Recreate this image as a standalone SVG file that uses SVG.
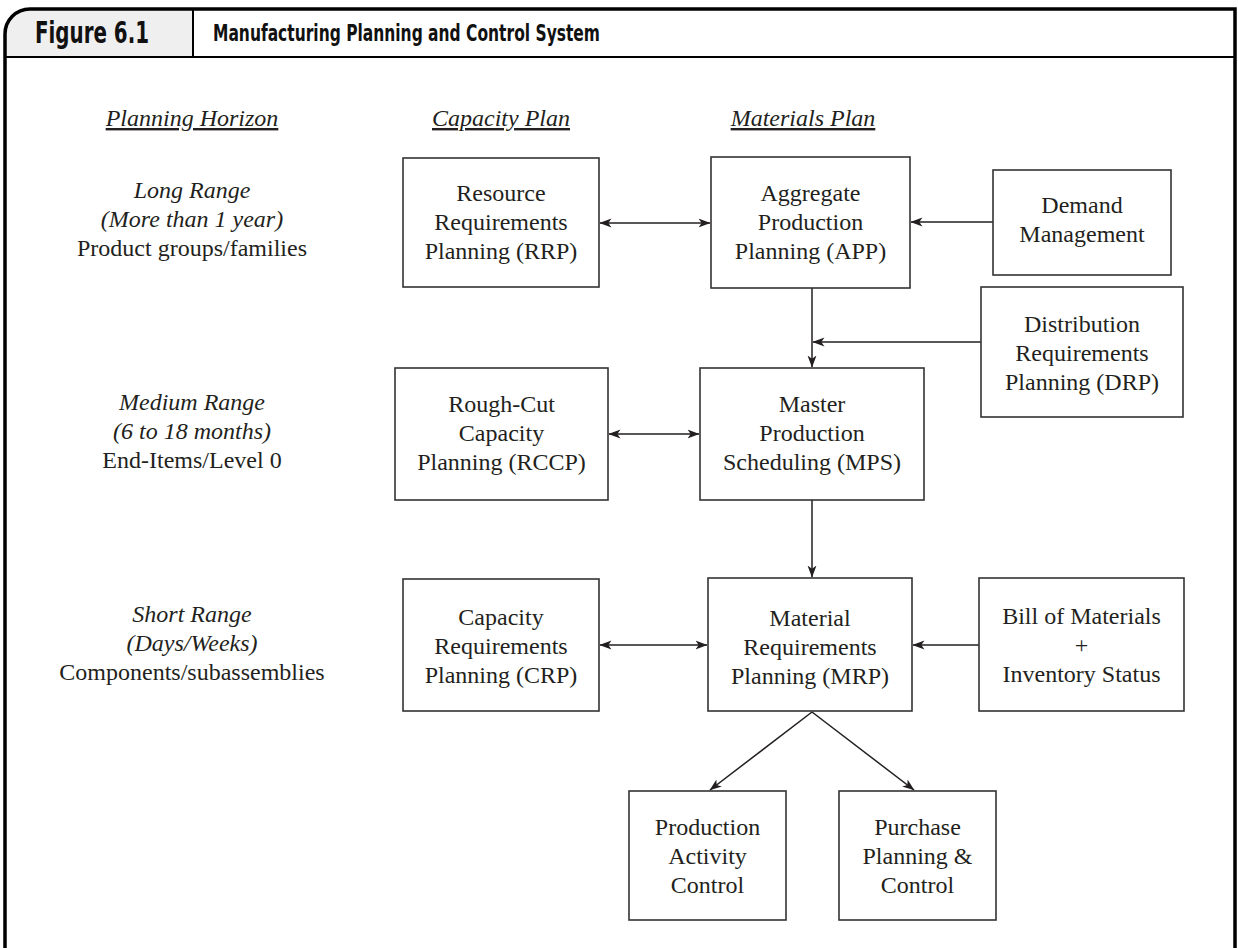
<svg xmlns="http://www.w3.org/2000/svg" width="1238" height="948" viewBox="0 0 1238 948">
<style>
.box{fill:#fff;stroke:#333;stroke-width:1.6}
.t{font-family:"Liberation Serif","Times New Roman",serif;font-size:24px;fill:#231f20;text-anchor:middle}
.i{font-style:italic}
.u{text-decoration:underline}
.c{stroke:#231f20;stroke-width:1.5;fill:none}
.hd{font-family:"Liberation Sans Narrow","DejaVu Sans Condensed","Liberation Sans",sans-serif;font-weight:bold;fill:#111}
</style>
<defs>
<marker id="ah" viewBox="0 0 12 10" refX="11.5" refY="5" markerWidth="12" markerHeight="10" markerUnits="userSpaceOnUse" orient="auto-start-reverse">
<path d="M0,0.5 L12,5 L0,9.5 L3.2,5 Z" fill="#231f20"/>
</marker>
</defs>
<rect x="0" y="0" width="1238" height="948" fill="#fff"/>
<g id="frame">
<path d="M5,57 V34 A25,25 0 0 1 30,9 H193 V57 Z" fill="#efefef"/>
<path d="M5,948 V34 A25,25 0 0 1 30,9 H1235 V948" fill="none" stroke="#000" stroke-width="3.5"/>
<line x1="5" y1="57" x2="1235" y2="57" stroke="#000" stroke-width="2"/>
<line x1="193" y1="9" x2="193" y2="57" stroke="#000" stroke-width="2"/>
<text class="hd" x="35" y="43" font-size="30" textLength="114" lengthAdjust="spacingAndGlyphs">Figure 6.1</text>
<text class="hd" x="213" y="41" font-size="23" textLength="387" lengthAdjust="spacingAndGlyphs">Manufacturing Planning and Control System</text>
</g>
<g id="headings">
<text class="t i u" x="192" y="126">Planning Horizon</text>
<text class="t i u" x="501" y="126">Capacity Plan</text>
<text class="t i u" x="803" y="126">Materials Plan</text>
</g>
<g id="horizon-long">
<text class="t i" x="192" y="198">Long Range</text>
<text class="t i" x="192" y="227">(More than 1 year)</text>
<text class="t" x="192" y="256">Product groups/families</text>
</g>
<g id="horizon-medium">
<text class="t i" x="192" y="410">Medium Range</text>
<text class="t i" x="192" y="439">(6 to 18 months)</text>
<text class="t" x="192" y="468">End-Items/Level 0</text>
</g>
<g id="horizon-short">
<text class="t i" x="192" y="622">Short Range</text>
<text class="t i" x="192" y="651">(Days/Weeks)</text>
<text class="t" x="192" y="680">Components/subassemblies</text>
</g>
<g id="connectors">
<line class="c" x1="600" y1="223" x2="710" y2="223" marker-start="url(#ah)" marker-end="url(#ah)"/>
<line class="c" x1="993" y1="222" x2="911" y2="222" marker-end="url(#ah)"/>
<line class="c" x1="812" y1="288" x2="812" y2="367" marker-end="url(#ah)"/>
<line class="c" x1="981" y1="342" x2="813" y2="342" marker-end="url(#ah)"/>
<line class="c" x1="609" y1="434" x2="699" y2="434" marker-start="url(#ah)" marker-end="url(#ah)"/>
<line class="c" x1="812" y1="500" x2="812" y2="577" marker-end="url(#ah)"/>
<line class="c" x1="600" y1="645" x2="707" y2="645" marker-start="url(#ah)" marker-end="url(#ah)"/>
<line class="c" x1="979" y1="645" x2="913" y2="645" marker-end="url(#ah)"/>
<line class="c" x1="812" y1="712" x2="710" y2="790" marker-end="url(#ah)"/>
<line class="c" x1="812" y1="712" x2="914" y2="790" marker-end="url(#ah)"/>
</g>
<g id="rrp">
<rect class="box" x="403" y="158" width="196" height="129"/>
<text class="t" x="501" y="201">Resource</text>
<text class="t" x="501" y="230">Requirements</text>
<text class="t" x="501" y="259">Planning (RRP)</text>
</g>
<g id="app">
<rect class="box" x="711" y="157" width="199" height="131"/>
<text class="t" x="810.5" y="201">Aggregate</text>
<text class="t" x="810.5" y="230">Production</text>
<text class="t" x="810.5" y="259">Planning (APP)</text>
</g>
<g id="demand">
<rect class="box" x="993" y="170" width="178" height="105"/>
<text class="t" x="1082" y="213">Demand</text>
<text class="t" x="1082" y="242">Management</text>
</g>
<g id="drp">
<rect class="box" x="981" y="287" width="202" height="130"/>
<text class="t" x="1082" y="332">Distribution</text>
<text class="t" x="1082" y="361">Requirements</text>
<text class="t" x="1082" y="390">Planning (DRP)</text>
</g>
<g id="rccp">
<rect class="box" x="395" y="368" width="213" height="132"/>
<text class="t" x="501.5" y="412">Rough-Cut</text>
<text class="t" x="501.5" y="441">Capacity</text>
<text class="t" x="501.5" y="470">Planning (RCCP)</text>
</g>
<g id="mps">
<rect class="box" x="700" y="368" width="224" height="132"/>
<text class="t" x="812" y="412">Master</text>
<text class="t" x="812" y="441">Production</text>
<text class="t" x="812" y="470">Scheduling (MPS)</text>
</g>
<g id="crp">
<rect class="box" x="403" y="579" width="196" height="132"/>
<text class="t" x="501" y="625">Capacity</text>
<text class="t" x="501" y="654">Requirements</text>
<text class="t" x="501" y="683">Planning (CRP)</text>
</g>
<g id="mrp">
<rect class="box" x="708" y="578" width="204" height="133"/>
<text class="t" x="810" y="626">Material</text>
<text class="t" x="810" y="655">Requirements</text>
<text class="t" x="810" y="684">Planning (MRP)</text>
</g>
<g id="bom">
<rect class="box" x="979" y="578" width="205" height="133"/>
<text class="t" x="1081.5" y="624">Bill of Materials</text>
<text class="t" x="1081.5" y="653">+</text>
<text class="t" x="1081.5" y="682">Inventory Status</text>
</g>
<g id="pac">
<rect class="box" x="629" y="791" width="157" height="129"/>
<text class="t" x="707.5" y="835">Production</text>
<text class="t" x="707.5" y="864">Activity</text>
<text class="t" x="707.5" y="893">Control</text>
</g>
<g id="ppc">
<rect class="box" x="839" y="791" width="157" height="129"/>
<text class="t" x="917.5" y="835">Purchase</text>
<text class="t" x="917.5" y="864">Planning &amp;</text>
<text class="t" x="917.5" y="893">Control</text>
</g>
</svg>
